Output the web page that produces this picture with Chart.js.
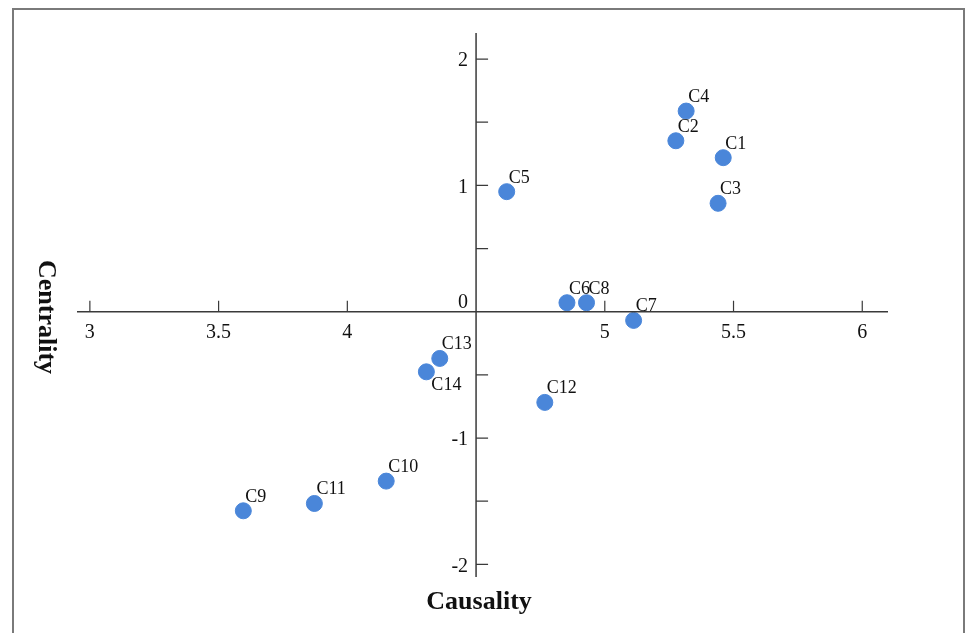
<!DOCTYPE html>
<html>
<head>
<meta charset="utf-8">
<script src="https://cdn.jsdelivr.net/npm/chart.js@4.4.1/dist/chart.umd.min.js"></script>
<style>
  html, body { margin: 0; padding: 0; background: #fff; }
  #wrap { width: 966px; height: 633px; position: relative; }
</style>
</head>
<body>
<div id="wrap"><canvas id="chart"></canvas></div>
<script>
// data
const names = ['C1', 'C2', 'C3', 'C4', 'C5', 'C6', 'C7', 'C8', 'C9', 'C10', 'C11', 'C12', 'C13', 'C14'];
const causality = [5.46, 5.276, 5.44, 5.316, 4.619, 4.853, 5.112, 4.929, 3.596, 4.151, 3.872, 4.767, 4.359, 4.307];
const centrality = [1.219, 1.353, 0.858, 1.588, 0.95, 0.071, -0.069, 0.071, -1.576, -1.341, -1.518, -0.718, -0.37, -0.476];

const xTicks = [3, 3.5, 4, 5, 5.5, 6];
const yTicks = [2, 1.5, 1, 0.5, -0.5, -1, -1.5, -2];
const yTickLabels = [2, 1, 0, -1, -2];
const labelsBelow = ['C14'];

const SERIF = "'Liberation Serif', 'Times New Roman', serif";
const AXIS_COLOR = '#3a3a3a';

// crossing axes, ticks, titles, frame and point names
const crossAxes = {
    id: 'crossAxes',
    afterDatasetsDraw(chart) {
        const ctx = chart.ctx;
        const xs = chart.scales.x, ys = chart.scales.y;
        const area = chart.chartArea;
        const ox = xs.getPixelForValue(4.5);
        const oy = ys.getPixelForValue(0);

        ctx.save();
        ctx.strokeStyle = AXIS_COLOR;
        ctx.lineWidth = 1.5;
        ctx.beginPath();
        ctx.moveTo(area.left, oy); ctx.lineTo(area.right, oy);
        ctx.moveTo(ox, area.top); ctx.lineTo(ox, area.bottom);
        ctx.stroke();

        ctx.lineWidth = 1.2;
        ctx.beginPath();
        xTicks.forEach(v => {
            const px = xs.getPixelForValue(v);
            ctx.moveTo(px, oy); ctx.lineTo(px, oy - 11);
        });
        yTicks.forEach(v => {
            const py = ys.getPixelForValue(v);
            ctx.moveTo(ox, py); ctx.lineTo(ox + 12, py);
        });
        ctx.stroke();

        ctx.fillStyle = '#111';
        ctx.font = '20px ' + SERIF;
        ctx.textAlign = 'center';
        ctx.textBaseline = 'middle';
        xTicks.forEach(v => {
            ctx.fillText(String(v), xs.getPixelForValue(v), oy + 21);
        });
        ctx.textAlign = 'right';
        yTickLabels.forEach(v => {
            const py = ys.getPixelForValue(v);
            if (v === 0) {
                ctx.textBaseline = 'bottom';
                ctx.fillText('0', ox - 8, oy + 1);
                ctx.textBaseline = 'middle';
            } else {
                ctx.fillText(v < 0 ? '-' + Math.abs(v) : String(v), ox - 8, py + 2);
            }
        });

        // axis titles
        ctx.font = 'bold 26px ' + SERIF;
        ctx.textAlign = 'center';
        ctx.fillText('Causality', ox + 3, 602);
        ctx.save();
        ctx.translate(46, 317);
        ctx.rotate(Math.PI / 2);
        ctx.fillText('Centrality', 0, 0);
        ctx.restore();

        // point names
        ctx.font = '18px ' + SERIF;
        ctx.textAlign = 'left';
        ctx.textBaseline = 'alphabetic';
        const meta = chart.getDatasetMeta(0);
        meta.data.forEach((pt, i) => {
            const n = names[i];
            if (labelsBelow.includes(n)) {
                ctx.fillText(n, pt.x + 5, pt.y + 18);
            } else {
                ctx.fillText(n, pt.x + 2, pt.y - 9);
            }
        });

        // outer frame (left, top, right)
        ctx.strokeStyle = '#7a7a7a';
        ctx.lineWidth = 2;
        ctx.beginPath();
        ctx.moveTo(13, 640); ctx.lineTo(13, 9); ctx.lineTo(964, 9); ctx.lineTo(964, 640);
        ctx.stroke();
        ctx.restore();
    }
};

new Chart(document.getElementById('chart').getContext('2d'), {
    type: 'scatter',
    data: {
        datasets: [{
            data: causality.map((x, i) => ({ x: x, y: centrality[i] })),
            backgroundColor: '#4a86d9',
            borderColor: '#4a86d9',
            pointRadius: 8,
            pointHoverRadius: 8
        }]
    },
    options: {
        responsive: true,
        maintainAspectRatio: false,
        animation: false,
        events: [],
        layout: { padding: { left: 77, right: 78, top: 33, bottom: 56 } },
        plugins: { legend: { display: false }, tooltip: { enabled: false } },
        scales: {
            x: { type: 'linear', min: 2.95, max: 6.1, display: false },
            y: { type: 'linear', min: -2.1, max: 2.206, display: false }
        }
    },
    plugins: [crossAxes]
});
</script>
</body>
</html>
